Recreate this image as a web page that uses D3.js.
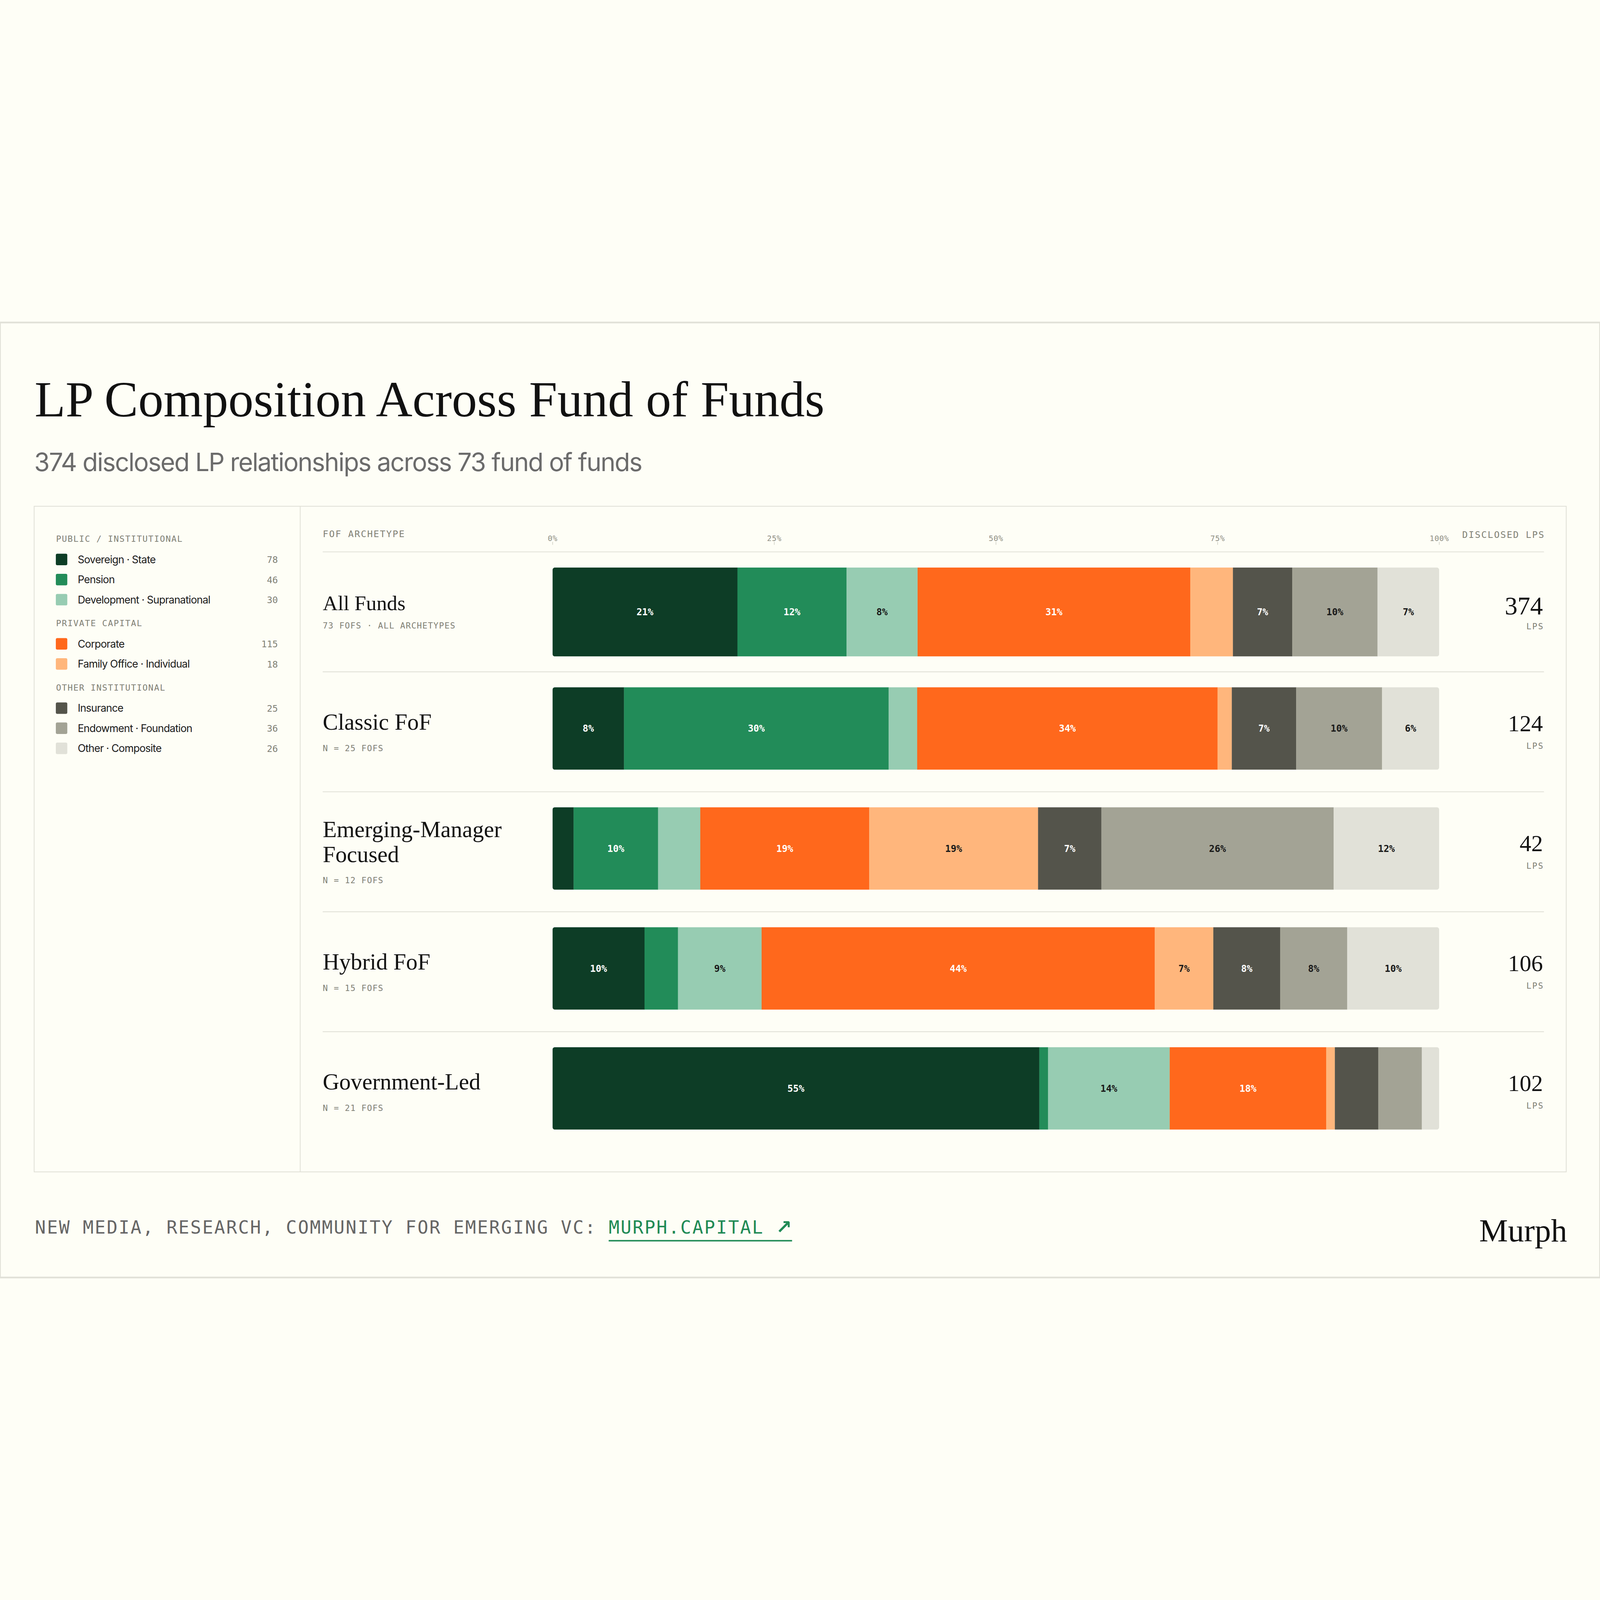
<!DOCTYPE html>
<html>
<head>
<meta charset="utf-8">
<script src="https://cdn.jsdelivr.net/npm/d3@7"></script>
<style>
  html, body { margin: 0; padding: 0; background: #fefef6; overflow: hidden; width: 100%; height: 100%; }
  svg { display: block; width: 100vw; height: 100vh; }
</style>
</head>
<body>
<svg id="chart" viewBox="0 0 7680 4584" preserveAspectRatio="xMidYMid meet"></svg>
<script>
// ---------------- DATA ----------------
const categories = [
  "Sovereign · State", "Pension", "Development · Supranational",
  "Corporate", "Family Office · Individual",
  "Insurance", "Endowment · Foundation", "Other · Composite"
];
const categoryGroup = [0, 0, 0, 1, 1, 2, 2, 2];
const groupNames = ["PUBLIC / INSTITUTIONAL", "PRIVATE CAPITAL", "OTHER INSTITUTIONAL"];
const colors = ["#0d3d26", "#228c59", "#97ccb2", "#ff681c", "#ffb67c", "#54544b", "#a3a395", "#e1e1d8"];
const darkText = [false, false, true, false, true, false, true, true];

const archetypes = ["All Funds", "Classic FoF", "Emerging-Manager Focused", "Hybrid FoF", "Government-Led"];
const archetypeLines = [["All Funds"], ["Classic FoF"], ["Emerging-Manager", "Focused"], ["Hybrid FoF"], ["Government-Led"]];
const subLabels = ["73 FOFS · ALL ARCHETYPES", "N = 25 FOFS", "N = 12 FOFS", "N = 15 FOFS", "N = 21 FOFS"];

// LP counts per category (same order as categories)
const allFunds        = [78, 46, 30, 115, 18, 25, 36, 26];
const classicFoF      = [10, 37, 4, 42, 2, 9, 12, 8];
const emergingManager = [1, 4, 2, 8, 8, 3, 11, 5];
const hybridFoF       = [11, 4, 10, 47, 7, 8, 8, 11];
const governmentLed   = [56, 1, 14, 18, 1, 5, 5, 2];
const rowValues = [allFunds, classicFoF, emergingManager, hybridFoF, governmentLed];

const tickValues = [0, 0.25, 0.5, 0.75, 1];

const titleText = "LP Composition Across Fund of Funds";
const subtitleText = "374 disclosed LP relationships across 73 fund of funds";
const footerText = "NEW MEDIA, RESEARCH, COMMUNITY FOR EMERGING VC: ";
const footerLink = "MURPH.CAPITAL";
const footerArrow = "↗";
const logoText = "Murph";

// ---------------- STYLE ----------------
const W = 7680, H = 4584;
const BG = "#fefef6", LINE = "#e1e1d8", INK = "#111111", MUTED = "#808075";
const SERIF = "'Liberation Serif', 'DejaVu Serif', serif";
const SANS = "Inter, 'Noto Sans', sans-serif";
const MONO = "'DejaVu Sans Mono', 'Liberation Mono', monospace";
const GREEN = "#1f8a55";

const svg = d3.select("#chart");
svg.append("rect").attr("x", 0).attr("y", 0).attr("width", W).attr("height", H)
  .attr("fill", BG).attr("stroke", LINE).attr("stroke-width", 8);

// Title & subtitle
svg.append("text").attr("x", 166).attr("y", 451)
  .attr("font-family", SERIF).attr("font-size", 243).attr("fill", INK)
  .text(titleText);
svg.append("text").attr("x", 164).attr("y", 714)
  .attr("font-family", SANS).attr("font-size", 121).attr("fill", "#6b6b6b")
  .attr("letter-spacing", -4)
  .text(subtitleText);

// Panel
const panel = { x: 164, y: 882, x2: 7518, y2: 4077, divider: 1441 };
svg.append("rect").attr("x", panel.x).attr("y", panel.y)
  .attr("width", panel.x2 - panel.x).attr("height", panel.y2 - panel.y)
  .attr("fill", "none").attr("stroke", LINE).attr("stroke-width", 4);
svg.append("line").attr("x1", panel.divider).attr("x2", panel.divider)
  .attr("y1", panel.y).attr("y2", panel.y2).attr("stroke", LINE).attr("stroke-width", 4);

// ---------------- LEGEND ----------------
const legend = svg.append("g");
let ly = 1038; // center of first header
groupNames.forEach((g, gi) => {
  legend.append("text").attr("x", 269).attr("y", ly + 15)
    .attr("font-family", MONO).attr("font-size", 41).attr("letter-spacing", 3)
    .attr("fill", MUTED).text(g);
  ly += 99;
  categories.forEach((c, ci) => {
    if (categoryGroup[ci] !== gi) return;
    legend.append("rect").attr("x", 268).attr("y", ly - 27).attr("width", 55).attr("height", 55)
      .attr("rx", 7).attr("fill", colors[ci]);
    legend.append("text").attr("x", 373).attr("y", ly + 18)
      .attr("font-family", SANS).attr("font-size", 50).attr("letter-spacing", -1.6)
      .attr("fill", "#1a1a1a").text(c);
    legend.append("text").attr("x", 1334).attr("y", ly + 17).attr("text-anchor", "end")
      .attr("font-family", MONO).attr("font-size", 44).attr("fill", MUTED)
      .text(allFunds[ci]);
    ly += 96.5;
  });
  ly += 113 - 96.5;
});

// ---------------- CHART ----------------
const x = d3.scaleLinear().domain([0, 1]).range([2652, 6908]);
const y = d3.scaleBand().domain(archetypes).range([1101, 3980]).paddingInner(0).paddingOuter(0);
const lineX1 = 1549, lineX2 = 7411;

// header
svg.append("text").attr("x", lineX1).attr("y", 1031)
  .attr("font-family", MONO).attr("font-size", 44).attr("letter-spacing", 4)
  .attr("fill", MUTED).text("FOF ARCHETYPE");
svg.append("text").attr("x", lineX2 + 4).attr("y", 1033).attr("text-anchor", "end")
  .attr("font-family", MONO).attr("font-size", 44).attr("letter-spacing", 4)
  .attr("fill", MUTED).text("DISCLOSED LPS");

const axis = d3.axisTop(x).tickValues(tickValues).tickFormat(d3.format(".0%"))
  .tickSize(14).tickPadding(5);
const axisG = svg.append("g").attr("transform", "translate(0,1067)").call(axis);
axisG.select(".domain").remove();
axisG.selectAll(".tick line").attr("stroke", "#cfcfc4").attr("stroke-width", 3);
axisG.selectAll(".tick text").attr("font-family", MONO).attr("font-size", 37)
  .attr("letter-spacing", 1).attr("fill", "#8f8f84");

// header rule and row separators
svg.append("line").attr("x1", lineX1).attr("x2", lineX2).attr("y1", 1101).attr("y2", 1101)
  .attr("stroke", LINE).attr("stroke-width", 4);
svg.selectAll("line.sep").data(archetypes.slice(0, -1)).join("line").attr("class", "sep")
  .attr("x1", lineX1).attr("x2", lineX2)
  .attr("y1", d => y(d) + y.bandwidth()).attr("y2", d => y(d) + y.bandwidth())
  .attr("stroke", LINE).attr("stroke-width", 4);

// stacked data
const table = archetypes.map((a, i) => {
  const o = { name: a };
  categories.forEach((c, ci) => o[c] = rowValues[i][ci]);
  return o;
});
const stack = d3.stack().keys(categories).offset(d3.stackOffsetExpand);
const series = stack(table);

const barTop = i => y(archetypes[i]) + (i === 0 ? 75 : 74);
const barH = i => (i === 0 ? 427 : 396);

const defs = svg.append("defs");
archetypes.forEach((a, i) => {
  defs.append("clipPath").attr("id", "clip" + i).append("rect")
    .attr("x", x(0)).attr("y", barTop(i)).attr("width", x(1) - x(0)).attr("height", barH(i))
    .attr("rx", 12).attr("ry", 12);
});

const bars = svg.append("g");
archetypes.forEach((a, i) => {
  const g = bars.append("g").attr("clip-path", `url(#clip${i})`);
  series.forEach((s, ci) => {
    const d = s[i];
    g.append("rect").attr("x", x(d[0])).attr("y", barTop(i))
      .attr("width", Math.max(0, x(d[1]) - x(d[0])) + 0.5).attr("height", barH(i))
      .attr("fill", colors[ci]);
  });
  series.forEach((s, ci) => {
    const d = s[i];
    const share = d[1] - d[0];
    if (share < 0.055) return;
    bars.append("text").attr("x", (x(d[0]) + x(d[1])) / 2).attr("y", barTop(i) + barH(i) / 2 + 16)
      .attr("text-anchor", "middle").attr("font-family", MONO).attr("font-weight", "bold")
      .attr("font-size", 45).attr("fill", darkText[ci] ? "#1a1a1a" : "#ffffff")
      .text(Math.round(share * 100) + "%");
  });
});

// row labels
archetypes.forEach((a, i) => {
  const c = y(a) + y.bandwidth() / 2;
  const lines = archetypeLines[i];
  const first = i === 0;
  const fs = first ? 100 : 110;
  const cap = first ? 67 : 76;
  const gap = first ? 88 : 102;
  const blockH = cap + (lines.length - 1) * 119 + gap;
  const top = c - blockH / 2 + 3;
  const t = svg.append("text").attr("font-family", SERIF).attr("font-size", fs).attr("fill", INK);
  lines.forEach((ln, li) => {
    t.append("tspan").attr("x", 1549).attr("y", top + cap + li * 119).text(ln);
  });
  svg.append("text").attr("x", 1549).attr("y", top + cap + (lines.length - 1) * 119 + gap)
    .attr("font-family", MONO).attr("font-size", 40).attr("letter-spacing", 2.5)
    .attr("fill", MUTED).text(subLabels[i]);

  // totals
  const total = d3.sum(rowValues[i]);
  svg.append("text").attr("x", 7406).attr("y", c + (first ? 13 : -3)).attr("text-anchor", "end")
    .attr("font-family", SERIF).attr("font-size", first ? 122 : 112).attr("fill", INK)
    .text(total);
  svg.append("text").attr("x", 7411).attr("y", c + (first ? 84 : 82)).attr("text-anchor", "end")
    .attr("font-family", MONO).attr("font-size", 40).attr("letter-spacing", 4)
    .attr("fill", MUTED).text("LPS");
});

// ---------------- FOOTER ----------------
const foot = svg.append("text").attr("x", 168).attr("y", 4373)
  .attr("font-family", MONO).attr("font-size", 86).attr("letter-spacing", 5.6);
foot.append("tspan").attr("fill", "#666666").text(footerText);
foot.append("tspan").attr("fill", GREEN).text(footerLink + " ");
foot.append("tspan").attr("fill", GREEN).attr("font-family", "'DejaVu Sans', sans-serif")
  .attr("font-weight", "bold").attr("font-size", 92).attr("letter-spacing", 0).text(footerArrow);
const fnode = foot.node();
const nChars = footerText.length;
const lastChar = nChars + footerLink.length + 1;
let ux1 = 2928, ux2 = 3788;
try {
  ux1 = fnode.getStartPositionOfChar(nChars).x;
  ux2 = fnode.getEndPositionOfChar(lastChar).x;
} catch (e) {}
svg.append("rect").attr("x", ux1).attr("y", 4404).attr("width", ux2 - ux1).attr("height", 7)
  .attr("fill", GREEN);

svg.append("text").attr("x", 7522).attr("y", 4411).attr("text-anchor", "end")
  .attr("font-family", SERIF).attr("font-size", 155).attr("fill", INK).text(logoText);
</script>
</body>
</html>
